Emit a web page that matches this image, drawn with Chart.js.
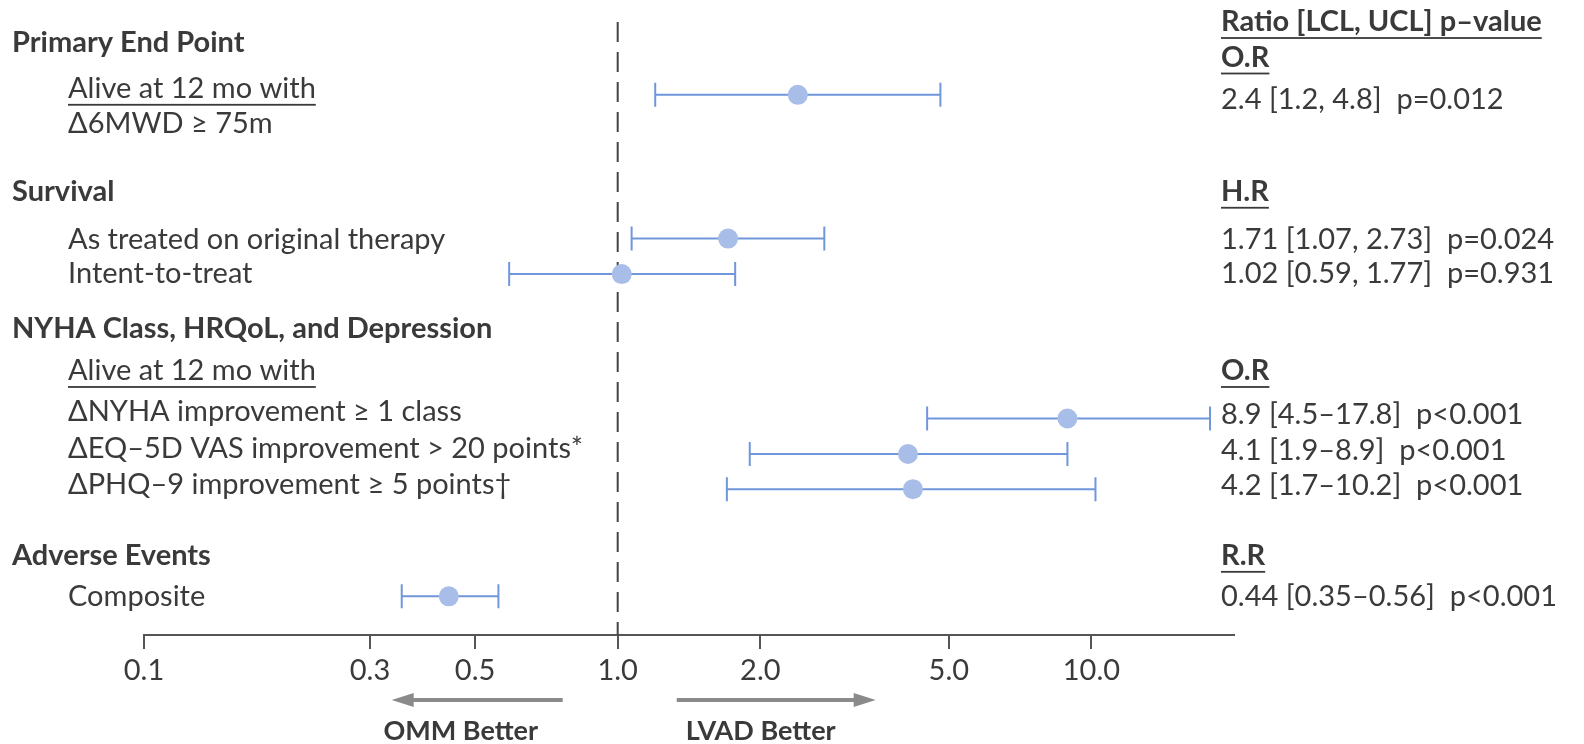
<!DOCTYPE html>
<html>
<head>
<meta charset="utf-8">
<script src="https://cdn.jsdelivr.net/npm/chart.js@4"></script>
<style>
  html, body { margin: 0; padding: 0; background: #fff; }
  #wrap { width: 1584px; height: 744px; position: relative; }
</style>
</head>
<body>
<div id="wrap"><canvas id="forestChart" width="1584" height="744"></canvas></div>
<script>
// Outcome rows, top to bottom
const rowLabels = ['Alive at 12 mo with', 'As treated on original therapy', 'Intent-to-treat',
    'ΔNYHA improvement ≥ 1 class', 'ΔEQ–5D VAS improvement > 20 points*',
    'ΔPHQ–9 improvement ≥ 5 points†', 'Composite'];
const ratios = [2.4, 1.71, 1.02, 8.9, 4.1, 4.2, 0.44];
const lowerCL = [1.2, 1.07, 0.59, 4.5, 1.9, 1.7, 0.35];
const upperCL = [4.8, 2.73, 1.77, 17.8, 8.9, 10.2, 0.56];
const resultText = ['2.4 [1.2, 4.8]  p=0.012', '1.71 [1.07, 2.73]  p=0.024', '1.02 [0.59, 1.77]  p=0.931',
    '8.9 [4.5–17.8]  p<0.001', '4.1 [1.9–8.9]  p<0.001', '4.2 [1.7–10.2]  p<0.001',
    '0.44 [0.35–0.56]  p<0.001'];
const sectionTitles = ['Primary End Point', 'Survival', 'NYHA Class, HRQoL, and Depression', 'Adverse Events'];
const ratioTypes = ['O.R', 'H.R', 'O.R', 'R.R'];
const tickValues = [0.1, 0.3, 0.5, 1, 2, 5, 10];
const tickLabels = ['0.1', '0.3', '0.5', '1.0', '2.0', '5.0', '10.0'];

// Vertical slots (row units) used for layout
const barSlots = [2.13, 6.22, 7.23, 11.34, 12.35, 13.35, 16.40];
const labelSlots = [1.96, 6.25, 7.23, 11.14, 12.21, 13.23, 16.40];
const resultSlots = [2.28, 6.25, 7.23, 11.23, 12.24, 13.26, 16.40];
const sectionSlots = [0.64, 4.89, 8.78, 15.25];
const typeSlots = [1.07, 4.89, 9.99, 15.25];

const textColor = '#3a3a3a';
const lineColor = '#7097db';
const dotColor = '#a8bde7';
const regular = '29px Lato';
const bold = 'bold 29px Lato';

function drawText(ctx, text, x, y, font, underline) {
    ctx.font = font;
    ctx.fillText(text, x, y);
    if (underline) {
        const w = ctx.measureText(text).width;
        ctx.fillRect(x, y + 15, w, 1.8);
    }
}

// Draws the confidence interval whiskers through the x scale
const whiskerPlugin = {
    id: 'whiskers',
    beforeDatasetsDraw(chart) {
        const { ctx, scales: { x, y }, chartArea } = chart;
        ctx.save();
        // reference line at ratio 1
        ctx.strokeStyle = '#444';
        ctx.lineWidth = 2;
        ctx.setLineDash([20, 10]);
        ctx.beginPath();
        ctx.moveTo(x.getPixelForValue(1), chartArea.top + 2);
        ctx.lineTo(x.getPixelForValue(1), chartArea.bottom);
        ctx.stroke();
        ctx.setLineDash([]);

        ctx.strokeStyle = lineColor;
        ctx.lineWidth = 2;
        for (let i = 0; i < ratios.length; i++) {
            const py = y.getPixelForValue(barSlots[i]);
            const x1 = x.getPixelForValue(lowerCL[i]);
            const x2 = x.getPixelForValue(upperCL[i]);
            ctx.beginPath();
            ctx.moveTo(x1, py);
            ctx.lineTo(x2, py);
            ctx.moveTo(x1, py - 12);
            ctx.lineTo(x1, py + 12);
            ctx.moveTo(x2, py - 12);
            ctx.lineTo(x2, py + 12);
            ctx.stroke();
        }
        ctx.restore();
    }
};

// Draws labels, result column and the direction arrows
const textPlugin = {
    id: 'texts',
    afterDraw(chart) {
        const { ctx, scales: { x, y }, chartArea } = chart;
        ctx.save();
        ctx.fillStyle = textColor;
        ctx.textBaseline = 'middle';
        ctx.textAlign = 'left';

        sectionTitles.forEach((t, i) => drawText(ctx, t, 12, y.getPixelForValue(sectionSlots[i]), bold, false));
        rowLabels.forEach((t, i) => drawText(ctx, t, 68, y.getPixelForValue(labelSlots[i]), regular, i === 0));
        drawText(ctx, 'Δ6MWD ≥ 75m', 68, y.getPixelForValue(2.94), regular, false);
        drawText(ctx, 'Alive at 12 mo with', 68, y.getPixelForValue(9.99), regular, true);

        const rx = 1221;
        drawText(ctx, 'Ratio [LCL, UCL] p–value', rx, y.getPixelForValue(0.06), bold, true);
        ratioTypes.forEach((t, i) => drawText(ctx, t, rx, y.getPixelForValue(typeSlots[i]), bold, true));
        resultText.forEach((t, i) => drawText(ctx, t, rx, y.getPixelForValue(resultSlots[i]), regular, false));

        // direction arrows under the axis
        const one = x.getPixelForValue(1);
        const ay = chartArea.bottom + 65;
        ctx.fillStyle = '#8a8a8a';
        ctx.fillRect(one - 206, ay - 2, 151, 4);
        ctx.beginPath();
        ctx.moveTo(one - 226, ay);
        ctx.lineTo(one - 204, ay - 7);
        ctx.lineTo(one - 204, ay + 7);
        ctx.closePath();
        ctx.fill();
        ctx.fillRect(one + 59, ay - 2, 180, 4);
        ctx.beginPath();
        ctx.moveTo(one + 258, ay);
        ctx.lineTo(one + 236, ay - 7);
        ctx.lineTo(one + 236, ay + 7);
        ctx.closePath();
        ctx.fill();

        ctx.fillStyle = textColor;
        ctx.textAlign = 'center';
        ctx.font = 'bold 27px Lato';
        ctx.fillText('OMM Better', one - 157, ay + 31);
        ctx.fillText('LVAD Better', one + 143, ay + 31);
        ctx.restore();
    }
};

const ctx = document.getElementById('forestChart').getContext('2d');
new Chart(ctx, {
    type: 'scatter',
    data: {
        datasets: [{
            data: ratios.map((r, i) => ({ x: r, y: barSlots[i] })),
            backgroundColor: dotColor,
            borderWidth: 0,
            pointRadius: 10,
            pointHoverRadius: 10
        }]
    },
    options: {
        responsive: false,
        animation: false,
        layout: { padding: { left: 144, right: 350, top: 20, bottom: 0 } },
        plugins: { legend: { display: false }, tooltip: { enabled: false } },
        scales: {
            x: {
                type: 'logarithmic',
                min: 0.1,
                max: 20,
                afterBuildTicks: (scale) => {
                    scale.ticks = tickValues.map(v => ({ value: v }));
                },
                afterFit: (scale) => { scale.height = 109; },
                ticks: {
                    callback: (v) => tickLabels[tickValues.indexOf(v)],
                    color: textColor,
                    font: { family: 'Lato', size: 29 },
                    padding: 4,
                    maxRotation: 0,
                    autoSkip: false
                },
                grid: {
                    drawOnChartArea: false,
                    drawTicks: true,
                    tickLength: 14,
                    color: '#555',
                    lineWidth: 2
                },
                border: { display: true, color: '#555', width: 2 }
            },
            y: {
                type: 'linear',
                display: false,
                reverse: true,
                min: 0,
                max: 17.5
            }
        }
    },
    plugins: [whiskerPlugin, textPlugin]
});
</script>
</body>
</html>
